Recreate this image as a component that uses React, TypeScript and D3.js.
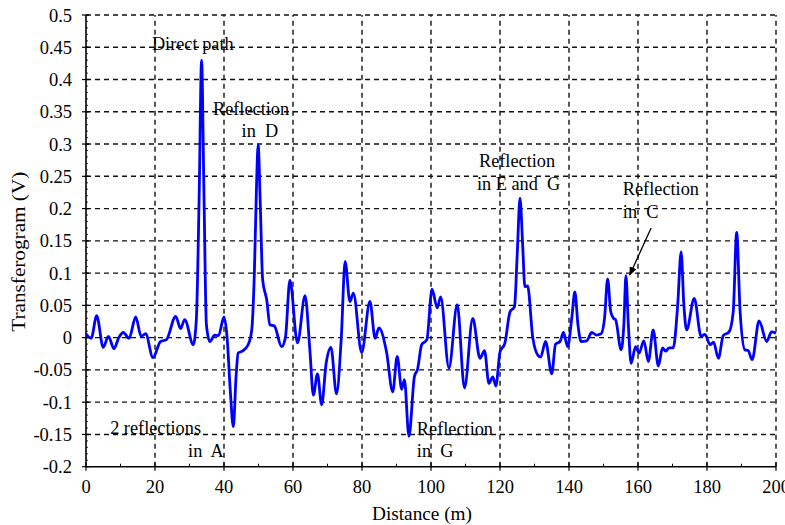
import React, { useEffect, useRef } from "react";
import * as d3 from "d3";

// distance (m) and transferogram value (V)
const distance = [
  0, 1.5, 3.1, 5.0, 6.5, 8.1, 9.5, 10.8, 12.5, 14.4, 16.0, 17.3, 19.4, 21.6, 23.3,
  26.0, 27.4, 28.6, 31.1, 32.0, 32.8, 33.5, 34.2, 34.9, 35.9, 37.3, 38.4, 40.0, 40.9,
  41.8, 42.7, 43.5, 44.1, 45.3, 47.0, 48.0, 48.8, 49.4, 49.9, 50.5, 51.2, 52.4, 53.3,
  54.6, 56.7, 57.8, 59.1, 61.3, 63.5, 64.9, 65.9, 67.1, 68.3, 69.6, 71.0, 72.6, 74.0,
  75.1, 76.5, 77.5, 79.9, 82.3, 83.8, 84.9, 87.1, 88.9, 90.2, 91.5, 92.3, 93.6, 95.2,
  96.1, 97.3, 98.8, 100.3, 101.8, 102.8, 105.2, 107.6, 109.7, 112.1, 114.2, 115.5,
  116.8, 117.9, 118.8, 120.0, 121.4, 122.9, 124.2, 125.0, 125.8, 126.6, 127.2, 128.0,
  129.5, 131.1, 131.8, 133.2, 135.0, 136.1, 137.4, 138.4, 139.6, 140.8, 141.7, 142.6,
  143.5, 145.1, 146.6, 148.0, 149.3, 150.3, 151.2, 152.1, 152.9, 153.5, 155.1, 155.9,
  156.5, 157.2, 158.0, 159.3, 160.3, 161.7, 163.0, 164.4, 165.9, 167.1, 168.0, 169.0,
  170.2, 171.5, 172.5, 173.3, 174.1, 176.3, 178.3, 179.4, 180.9, 181.9, 183.3, 184.7,
  186.4, 187.6, 188.6, 189.6, 191.0, 191.9, 193.1, 195.1, 197.3, 198.7, 200.0,
];
const voltage = [
  0.006, -0.001, 0.034, -0.015, 0.002, -0.017, 0.0, 0.008, -0.001, 0.032, 0.002, 0.006,
  -0.031, -0.006, -0.003, 0.033, 0.014, 0.028, -0.011, 0.03, 0.22, 0.43, 0.22, 0.02,
  -0.006, 0.004, 0.003, 0.032, 0.0, -0.08, -0.138, -0.06, -0.024, -0.021, -0.011, 0.01,
  0.1, 0.23, 0.299, 0.21, 0.09, 0.058, 0.02, 0.018, -0.014, 0.0, 0.089, -0.008, 0.065,
  -0.02, -0.089, -0.056, -0.104, -0.04, -0.015, -0.087, 0.0, 0.118, 0.056, 0.069,
  -0.023, 0.056, -0.001, 0.015, -0.022, -0.084, -0.029, -0.08, -0.065, -0.153, -0.06,
  -0.049, -0.011, -0.003, 0.075, 0.046, 0.063, -0.047, 0.051, -0.078, 0.03, -0.032,
  -0.02, -0.071, -0.061, -0.075, -0.022, -0.009, 0.04, 0.048, 0.13, 0.216, 0.14, 0.079,
  0.08, 0.0, -0.028, -0.03, -0.006, -0.056, -0.01, -0.006, 0.008, -0.014, 0.03, 0.071,
  0.02, -0.006, -0.005, 0.008, 0.004, 0.006, 0.03, 0.091, 0.04, 0.03, 0.028, -0.019,
  0.02, 0.096, 0.02, -0.04, -0.014, -0.024, -0.005, -0.037, 0.012, -0.044, -0.016,
  -0.021, -0.016, -0.016, 0.05, 0.133, 0.05, 0.012, 0.061, 0.002, 0.005, -0.011,
  -0.007, -0.032, 0.003, 0.009, 0.04, 0.163, 0.04, -0.019, -0.02, -0.034, 0.026,
  -0.006, 0.009, 0.007,
];

const xTicks = [0, 20, 40, 60, 80, 100, 120, 140, 160, 180, 200];
const yTicks = [0.5, 0.45, 0.4, 0.35, 0.3, 0.25, 0.2, 0.15, 0.1, 0.05, 0, -0.05, -0.1, -0.15, -0.2];

// annotation lines: text, start distance (m), baseline value (V)
const noteText = [
  "Direct path",
  "Reflection", "in  D",
  "Reflection", "in E and  G",
  "Reflection", "in  C",
  "2 reflections", "in  A",
  "Reflection", "in  G",
];
const noteX = [19.1, 36.8, 45.1, 113.9, 113.3, 155.6, 155.6, 7.0, 29.6, 95.9, 95.9];
const noteY = [0.445, 0.345, 0.311, 0.265, 0.229, 0.221, 0.186, -0.149, -0.185, -0.151, -0.185];

const W = 785;
const H = 525;
const FONT = "Liberation Serif";

export default function App() {
  const ref = useRef<SVGSVGElement>(null);

  useEffect(() => {
    const svg = d3.select(ref.current);
    svg.selectAll("*").remove();

    const x = d3.scaleLinear().domain([0, 200]).range([86, 776]);
    const y = d3.scaleLinear().domain([-0.2, 0.5]).range([466.7, 15]);

    const g = svg.append("g");

    // grid
    g.selectAll(".hg")
      .data(yTicks.filter((v) => v !== -0.2))
      .enter()
      .append("line")
      .attr("x1", x(0))
      .attr("x2", x(200))
      .attr("y1", (d) => y(d))
      .attr("y2", (d) => y(d))
      .attr("stroke", "#111")
      .attr("stroke-width", 1.4)
      .attr("stroke-dasharray", "5,4");
    g.selectAll(".vg")
      .data(xTicks.filter((v) => v !== 0))
      .enter()
      .append("line")
      .attr("x1", (d) => x(d))
      .attr("x2", (d) => x(d))
      .attr("y1", y(-0.2))
      .attr("y2", y(0.5))
      .attr("stroke", "#111")
      .attr("stroke-width", 1.4)
      .attr("stroke-dasharray", "5,4");

    // axes lines
    g.append("line")
      .attr("x1", x(0)).attr("x2", x(0))
      .attr("y1", y(-0.2)).attr("y2", y(0.5))
      .attr("stroke", "#000").attr("stroke-width", 1.6);
    g.append("line")
      .attr("x1", x(0)).attr("x2", x(200))
      .attr("y1", y(-0.2)).attr("y2", y(-0.2))
      .attr("stroke", "#000").attr("stroke-width", 1.6);

    // y ticks (major + minor)
    g.selectAll(".yt")
      .data(yTicks)
      .enter()
      .append("line")
      .attr("x1", x(0) - 4).attr("x2", x(0) + 3)
      .attr("y1", (d) => y(d)).attr("y2", (d) => y(d))
      .attr("stroke", "#000").attr("stroke-width", 1.2);
    g.selectAll(".ym")
      .data(d3.range(-0.19, 0.5, 0.01))
      .enter()
      .append("line")
      .attr("x1", x(0)).attr("x2", x(0) + 2)
      .attr("y1", (d) => y(d)).attr("y2", (d) => y(d))
      .attr("stroke", "#000").attr("stroke-width", 0.8);
    g.selectAll(".ytl")
      .data(yTicks)
      .enter()
      .append("text")
      .attr("x", 72)
      .attr("y", (d) => y(d) + 6.5)
      .attr("text-anchor", "end")
      .attr("font-family", FONT)
      .attr("font-size", 18.5)
      .text((d) => String(+d.toFixed(2)));

    // x ticks
    g.selectAll(".xt")
      .data(xTicks)
      .enter()
      .append("line")
      .attr("x1", (d) => x(d)).attr("x2", (d) => x(d))
      .attr("y1", y(-0.2) - 4).attr("y2", y(-0.2) + 4)
      .attr("stroke", "#000").attr("stroke-width", 1.2);
    g.selectAll(".xm")
      .data(d3.range(10, 200, 20))
      .enter()
      .append("line")
      .attr("x1", (d) => x(d)).attr("x2", (d) => x(d))
      .attr("y1", y(-0.2) - 3).attr("y2", y(-0.2))
      .attr("stroke", "#000").attr("stroke-width", 1);
    g.selectAll(".xtl")
      .data(xTicks)
      .enter()
      .append("text")
      .attr("x", (d) => x(d))
      .attr("y", 492.5)
      .attr("text-anchor", "middle")
      .attr("font-family", FONT)
      .attr("font-size", 18.5)
      .text((d) => String(d));

    // axis titles
    g.append("text")
      .attr("x", 422)
      .attr("y", 520)
      .attr("text-anchor", "middle")
      .attr("font-family", FONT)
      .attr("font-size", 19)
      .attr("textLength", 100)
      .attr("lengthAdjust", "spacingAndGlyphs")
      .text("Distance (m)");
    g.append("text")
      .attr("transform", "translate(25, 251.7) rotate(-90)")
      .attr("text-anchor", "middle")
      .attr("font-family", FONT)
      .attr("font-size", 18)
      .attr("textLength", 160)
      .attr("lengthAdjust", "spacingAndGlyphs")
      .text("Transferogram (V)");

    // curve
    const pts: [number, number][] = distance.map((d, i) => [d, voltage[i]]);
    const line = d3
      .line<[number, number]>()
      .x((d) => x(d[0]))
      .y((d) => y(d[1]))
      .curve(d3.curveMonotoneX);
    g.append("path")
      .datum(pts)
      .attr("fill", "none")
      .attr("stroke", "#0000ff")
      .attr("stroke-width", 2.8)
      .attr("stroke-linejoin", "round")
      .attr("d", line);

    // annotations
    g.selectAll(".note")
      .data(noteText)
      .enter()
      .append("text")
      .attr("x", (_, i) => x(noteX[i]))
      .attr("y", (_, i) => y(noteY[i]))
      .attr("font-family", FONT)
      .attr("font-size", 18.3)
      .attr("xml:space", "preserve")
      .style("white-space", "pre")
      .text((d) => d);

    // arrow to reflection in C
    svg
      .append("defs")
      .append("marker")
      .attr("id", "arr")
      .attr("viewBox", "0 0 10 10")
      .attr("refX", 9)
      .attr("refY", 5)
      .attr("markerWidth", 9)
      .attr("markerHeight", 9)
      .attr("orient", "auto")
      .attr("markerUnits", "userSpaceOnUse")
      .append("path")
      .attr("d", "M0,1 L10,5 L0,9 Z")
      .attr("fill", "#000");
    g.append("line")
      .attr("x1", x(163.8))
      .attr("y1", y(0.17))
      .attr("x2", x(157.6))
      .attr("y2", y(0.097))
      .attr("stroke", "#000")
      .attr("stroke-width", 1.3)
      .attr("marker-end", "url(#arr)");
  }, []);

  return (
    <svg
      ref={ref}
      width={W}
      height={H}
      style={{ position: "absolute", left: 0, top: 0, background: "#fff" }}
    />
  );
}
